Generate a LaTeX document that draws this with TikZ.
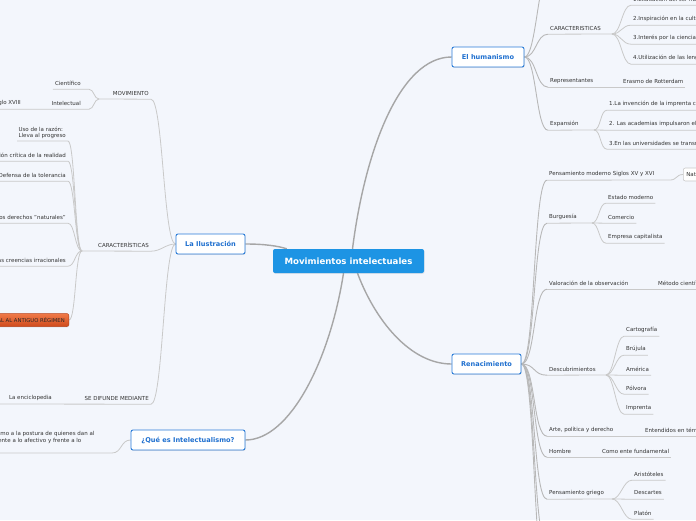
\documentclass[tikz,border=0pt]{standalone}
\usepackage{fontspec}
\setmainfont{DejaVu Sans}
\usetikzlibrary{calc,shadows}
\definecolor{bgc}{HTML}{F3F6FC}
\definecolor{txt}{HTML}{333333}
\definecolor{lnc}{HTML}{C9C9C9}
\definecolor{lnd}{HTML}{B8B8B8}
\definecolor{mainln}{HTML}{A6A6A6}
\definecolor{blueb}{HTML}{2A7CD8}
\definecolor{bluet}{HTML}{1E6FCF}
\definecolor{rootf}{HTML}{1D94E4}
\definecolor{ortop}{HTML}{F07A48}
\definecolor{orbot}{HTML}{CF4A1C}
\definecolor{ordraw}{HTML}{B8441C}
\pgfdeclarelayer{bglayer}
\pgfdeclarelayer{lnlayer}
\pgfsetlayers{bglayer,lnlayer,main}
\tikzset{
  sm/.style={font=\fontsize{5.5}{6.6}\selectfont, text=txt, inner xsep=2pt, inner ysep=0pt, minimum height=12pt},
  smr/.style={sm, anchor=west},
  sml/.style={sm, anchor=east},
  mainbox/.style={draw=blueb, line width=0.9pt, fill=white, rounded corners=2pt,
    font=\fontsize{6.6}{8}\selectfont\bfseries, text=bluet, inner sep=0pt, minimum height=20pt,
    drop shadow={opacity=0.18, shadow xshift=0.6pt, shadow yshift=-0.9pt}},
  rootbox/.style={fill=rootf, rounded corners=2pt, font=\fontsize{8.6}{10}\selectfont\bfseries,
    text=white, inner sep=0pt, minimum width=151pt, minimum height=24pt,
    drop shadow={opacity=0.15, shadow xshift=0.6pt, shadow yshift=-0.9pt}},
  orbox/.style={anchor=east, draw=ordraw, line width=0.5pt, top color=ortop, bottom color=orbot,
    rounded corners=2pt, font=\fontsize{5.3}{6}\selectfont, text=black!85, inner xsep=4pt,
    inner ysep=0pt, minimum height=13pt,
    drop shadow={opacity=0.2, shadow xshift=0.5pt, shadow yshift=-0.8pt}},
  natbox/.style={anchor=west, draw=lnc, line width=0.6pt, fill=white, rounded corners=2pt,
    font=\fontsize{5.5}{6.6}\selectfont, text=txt, inner xsep=3pt, inner ysep=0pt, minimum height=13pt},
  ul/.style={draw=lnc, line width=0.8pt},
  con/.style={draw=lnd, line width=0.9pt},
  bigcon/.style={draw=mainln, line width=1.4pt},
  hcurve/.style={to path={.. controls ($(\tikztostart)+(#1,0)$) and ($(\tikztotarget)-(#1,0)$) .. (\tikztotarget) \tikztonodes}},
}
\begin{document}
\begin{tikzpicture}[x=1pt,y=-1pt]
\useasboundingbox (0,0) rectangle (696,520);
\begin{pgfonlayer}{bglayer}
\fill[bgc] (0,0) rectangle (696,520);
\end{pgfonlayer}
\clip (0,0) rectangle (696,520);

% ---------- main nodes ----------
\node[rootbox] (root) at (348.5,261) {Movimientos intelectuales};
\node[mainbox, minimum width=72pt] (hum) at (488,57) {El humanismo};
\node[mainbox, minimum width=69pt] (ren) at (486.5,364) {Renacimiento};
\node[mainbox, minimum width=69pt] (ilu) at (210.5,244) {La Ilustración};
\node[mainbox, minimum width=114pt] (que) at (188,440) {¿Qué es Intelectualismo?};

% ---------- El humanismo ----------
\node[smr] (car) at (548,28) {CARACTERISTICAS};
\node[smr] (h1) at (631,-1) {1.Exaltación del ser humano};
\node[smr] (h2) at (631,19) {2.Inspiración en la cultura clásica};
\node[smr] (h3) at (631,38) {3.Interés por la ciencia};
\node[smr] (h4) at (631,58) {4.Utilización de las lenguas vernáculas};
\node[smr] (rep) at (548,81) {Representantes};
\node[smr] (era) at (621,81) {Erasmo de Rotterdam};
\node[smr] (exp) at (548,124) {Expansión};
\node[smr] (e1) at (607,104) {1.La invención de la imprenta contribuyó};
\node[smr] (e2) at (607,124) {2. Las academias impulsaron el estudio};
\node[smr] (e3) at (607,143) {3.En las universidades se transmitieron};
\coordinate (carJ) at (612,34);
\coordinate (expJ) at (594,130);
\coordinate (humT) at (550,-30);

% ---------- Renacimiento ----------
\node[smr] (pm) at (547,174) {Pensamiento moderno Siglos XV y XVI};
\node[natbox] (nat) at (683,174.5) {Naturaleza};
\node[smr] (bur) at (547,217) {Burguesía};
\node[smr] (b1) at (606,197) {Estado moderno};
\node[smr] (b2) at (606,217) {Comercio};
\node[smr] (b3) at (606,237) {Empresa capitalista};
\node[smr] (val) at (547,283) {Valoración de la observación};
\node[smr] (met) at (656,283) {Método científico};
\node[smr] (des) at (547,369) {Descubrimientos};
\node[smr] (d1) at (624,330) {Cartografía};
\node[smr] (d2) at (624,349) {Brújula};
\node[smr] (d3) at (624,369) {América};
\node[smr] (d4) at (624,388) {Pólvora};
\node[smr] (d5) at (624,408) {Imprenta};
\node[smr] (art) at (547,430) {Arte, política y derecho};
\node[smr] (ent) at (643,430) {Entendidos en términos humanos};
\node[smr] (hom) at (547,451) {Hombre};
\node[smr] (ente) at (600,451) {Como ente fundamental};
\node[smr] (pg) at (547,493) {Pensamiento griego};
\node[smr] (g1) at (632,474) {Aristóteles};
\node[smr] (g2) at (632,493) {Descartes};
\node[smr] (g3) at (632,513) {Platón};
\coordinate (pmJ) at (670,180);
\coordinate (burJ) at (592,223);
\coordinate (desJ) at (606,375);
\coordinate (pgJ) at (612,499);
\coordinate (renB1) at (547,545);
\coordinate (renB2) at (547,585);

% ---------- La Ilustracion ----------
\node[sml] (mov) at (151,93) {MOVIMIENTO};
\node[sml] (cie) at (83,83) {Científico};
\node[sml] (int) at (83,103) {Intelectual};
\node[sml] (sig) at (23,103) {Siglo XVIII};
\coordinate (movJ) at (99,99);

\node[sml] (car2) at (151,245) {CARACTERÍSTICAS};
\coordinate (car2J) at (82,251);
\node[sml, align=left, anchor=north east, minimum height=0pt] (uso) at (68,126.6) {Uso de la razón:\\Lleva al progreso};
\coordinate (usoL) at (17,141);
\coordinate (usoU) at (68,141);
\node[sml] (cri) at (68,155) {Observación crítica de la realidad};
\node[sml] (tol) at (68,175) {Defensa de la tolerancia};
\node[sml] (natu) at (68,217) {Defensa de los derechos "naturales"};
\node[sml] (cre) at (68,260) {Rechazo de las creencias irracionales};
\node[orbox] (opo) at (69,320) {OPOSICIÓN TOTAL AL ANTIGUO RÉGIMEN};

\node[sml] (sed) at (151,398) {SE DIFUNDE MEDIANTE};
\node[sml] (enc) at (54,398) {La enciclopedia};
\coordinate (encL) at (-10,404);

% ---------- Que es ----------
\node[sml, align=left, anchor=north west, minimum height=0pt, inner xsep=0pt,
  font=\fontsize{5.5}{6.4}\selectfont] (def) at (-71,431.5)
  {Se denomina intelectualismo a la postura de quienes dan al\\intelecto preeminencia frente a lo afectivo y frente a lo\\volitivo.};
\coordinate (queU) at (-71,453);
\coordinate (queJ) at (112,453);

% ---------- connectors ----------
\begin{pgfonlayer}{lnlayer}
\clip (0,0) rectangle (696,520);
% root
\draw[bigcon] ($(root.north)+(4,0)$) .. controls (365,150) and (400,57) .. (hum.west);
\draw[bigcon] ($(root.south)+(9,0)$) .. controls (375,320) and (410,364) .. (ren.west);
\draw[bigcon] ($(root.south)+(-5,0)$) .. controls (330,360) and (290,440) .. (que.east);
\draw[bigcon] (ilu.east) .. controls (265,244) and (278,246) .. ($(root.north west)+(14,0)$);

% humanismo
\draw[con] (hum.east) to[hcurve=12] (humT);
\draw[con] (hum.east) to[hcurve=12] (car.south west);
\draw[con] (hum.east) to[hcurve=12] (rep.south west);
\draw[con] (hum.east) to[hcurve=12] (exp.south west);
\draw[ul] (car.south west) -- (carJ);
\foreach \c in {h1,h2,h3,h4}{
  \draw[ul] (carJ) to[hcurve=9] (\c.south west) -- ($(\c.south east)+(60,0)$);
}
\draw[ul] (rep.south west) -- (era.south east);
\draw[ul] (exp.south west) -- (expJ);
\foreach \c in {e1,e2,e3}{
  \draw[ul] (expJ) to[hcurve=7] (\c.south west) -- ($(\c.south east)+(60,0)$);
}

% renacimiento
\foreach \c in {pm,bur,val,des,art,hom,pg}{
  \draw[con] (ren.east) to[hcurve=14] (\c.south west);
}
\draw[con] (ren.east) to[hcurve=14] (renB1);
\draw[con] (ren.east) to[hcurve=14] (renB2);
\draw[ul] (pm.south west) -- (pmJ) to[hcurve=7] (nat.west);
\draw[ul] (bur.south west) -- (burJ);
\foreach \c in {b1,b2,b3}{
  \draw[ul] (burJ) to[hcurve=7] (\c.south west) -- (\c.south east);
}
\draw[ul] (val.south west) -- (met.south east);
\draw[ul] (des.south west) -- (desJ);
\foreach \c in {d1,d2,d3,d4,d5}{
  \draw[ul] (desJ) to[hcurve=8] (\c.south west) -- (\c.south east);
}
\draw[ul] (art.south west) -- ($(ent.south east)+(10,0)$);
\draw[ul] (hom.south west) -- (ente.south east);
\draw[ul] (pg.south west) -- (pgJ);
\foreach \c in {g1,g2,g3}{
  \draw[ul] (pgJ) to[hcurve=9] (\c.south west) -- (\c.south east);
}

% ilustracion
\draw[ul] (movJ) -- (mov.south east) to[hcurve=12] (ilu.west);
\draw[ul] (cie.south west) -- ($(cie.south east)+(6,0)$) to[hcurve=5] (movJ);
\draw[ul] (sig.south west) -- ($(int.south east)+(6,0)$) to[hcurve=5] (movJ);

\draw[ul] (car2J) -- (car2.south east) to[hcurve=10] (ilu.west);
\draw[ul] (usoL) -- (usoU) to[hcurve=7] (car2J);
\foreach \c in {cri,natu,cre}{
  \draw[ul] (\c.south west) -- (\c.south east) to[hcurve=7] (car2J);
}
\draw[ul] ($(tol.south west)+(-10,0)$) -- (tol.south east) to[hcurve=7] (car2J);
\draw[ul] (opo.east) to[hcurve=7] (car2J);

\draw[ul] (encL) -- (sed.south east) to[hcurve=12] (ilu.west);

% que es
\draw[ul] (queU) -- (queJ) to[hcurve=10] (que.west);
\end{pgfonlayer}
\end{tikzpicture}
\end{document}
